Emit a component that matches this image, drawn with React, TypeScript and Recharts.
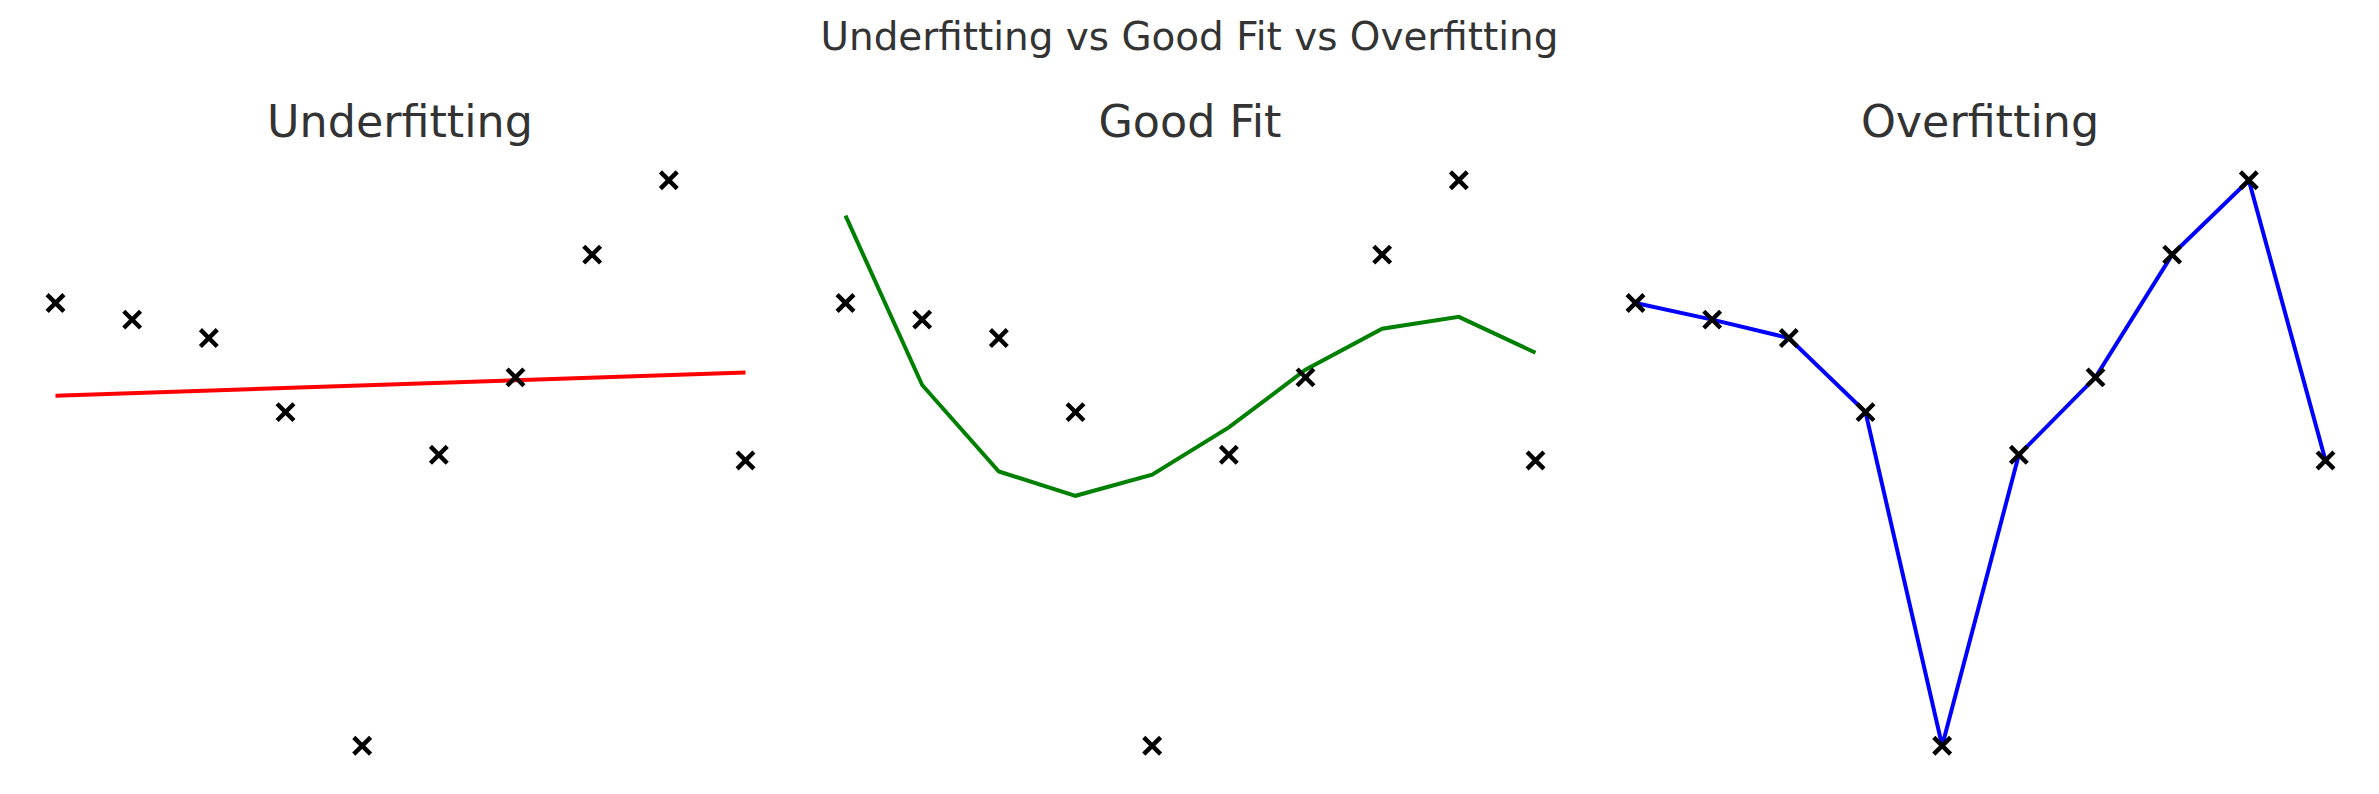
import { ComposedChart, Line, Scatter, XAxis, YAxis } from "recharts"

// x positions of the samples
const sampleX = [0, 1, 2, 3, 4, 5, 6, 7, 8, 9]
// noisy observations (shared by all three panels)
const sampleY = [0.566, 0.507, 0.442, 0.18, -1.0, 0.029, 0.303, 0.737, 1.0, 0.009]
// straight-line fit, read at both ends
const underX = [0, 9]
const underY = [0.238, 0.32]
// smooth fit
const goodY = [0.875, 0.276, -0.03, -0.116, -0.041, 0.126, 0.33, 0.475, 0.517, 0.39]
// the overfit line goes through every sample
const overY = sampleY

const panelTitles = ["Underfitting", "Good Fit", "Overfitting"]
const mainTitle = "Underfitting vs Good Fit vs Overfitting"

const points = sampleX.map((x, i) => ({ x, y: sampleY[i] }))
const lines = [
  { color: "#ff0000", rows: underX.map((x, i) => ({ x, v: underY[i] })) },
  { color: "#008000", rows: sampleX.map((x, i) => ({ x, v: goodY[i] })) },
  { color: "#0000ff", rows: sampleX.map((x, i) => ({ x, v: overY[i] })) },
]

const PW = 759
const PH = 622
const TOP = 152.4
const LEFTS = [20.5, 810.5, 1600.5]
const font = "'DejaVu Sans', sans-serif"

function XMark(props: any) {
  const { cx, cy } = props
  const r = 8.4
  return (
    <path
      d={`M${cx - r},${cy - r}L${cx + r},${cy + r}M${cx - r},${cy + r}L${cx + r},${cy - r}`}
      stroke="#000"
      strokeWidth={4.4}
      fill="none"
    />
  )
}

function Panel({ idx }: { idx: number }) {
  const ln = lines[idx]
  return (
    <div style={{ position: "absolute", left: LEFTS[idx], top: TOP }}>
      <ComposedChart width={PW} height={PH} margin={{ top: 0, right: 0, bottom: 0, left: 0 }}>
        <XAxis type="number" dataKey="x" domain={[-0.45, 9.45]} hide allowDataOverflow />
        <YAxis type="number" domain={[-1.1, 1.1]} hide allowDataOverflow />
        <Line
          data={ln.rows}
          dataKey="v"
          type="linear"
          stroke={ln.color}
          strokeWidth={4}
          dot={false}
          activeDot={false}
          isAnimationActive={false}
        />
        <Scatter data={points} dataKey="y" shape={XMark} isAnimationActive={false} />
      </ComposedChart>
    </div>
  )
}

export default function App() {
  return (
    <div style={{ position: "absolute", left: 0, top: 0, width: 2379, height: 794, background: "#fff" }}>
      <svg width={2379} height={794} style={{ position: "absolute", left: 0, top: 0 }}>
        <text x={1189.5} y={50} textAnchor="middle" fontFamily={font} fontSize={38.9} fill="#333333">
          {mainTitle}
        </text>
        {panelTitles.map((t, i) => (
          <text key={t} x={LEFTS[i] + PW / 2} y={136.5} textAnchor="middle" fontFamily={font} fontSize={44.4} fill="#333333">
            {t}
          </text>
        ))}
      </svg>
      {[0, 1, 2].map(i => (
        <Panel key={i} idx={i} />
      ))}
    </div>
  )
}
